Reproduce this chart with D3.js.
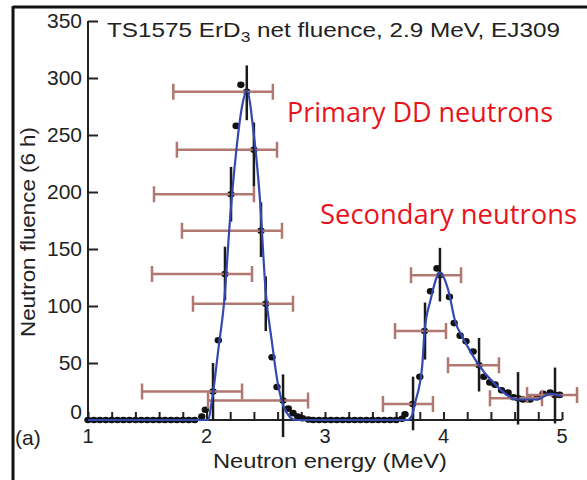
<!DOCTYPE html>
<html>
<head>
<meta charset="utf-8">
<script src="https://cdn.jsdelivr.net/npm/d3@7"></script>
<style>
  body { margin: 0; background: #fff; }
  svg text { font-family: "Liberation Sans", Arial, sans-serif; fill: #222; }
</style>
</head>
<body>
<div id="chart"></div>
<script>
// axis ticks
var energyTicks = [1, 2, 3, 4, 5];
var energyMinor = [1.2, 1.4, 1.6, 1.8, 2.2, 2.4, 2.6, 2.8, 3.2, 3.4, 3.6, 3.8, 4.2, 4.4, 4.6, 4.8];
var fluenceTicks = [0, 50, 100, 150, 200, 250, 300, 350];

// measured spectrum [energy MeV, fluence]
var measured = [
  [1.00,0],[1.05,0],[1.10,0],[1.15,0],[1.20,0],[1.25,0],[1.30,0],[1.35,0],[1.40,0],[1.45,0],
  [1.50,0],[1.55,0],[1.60,0],[1.65,0],[1.70,0],[1.75,0],[1.80,0],[1.85,0],[1.90,0],
  [1.96,3],[1.99,9],[2.055,25],[2.10,70],[2.156,128],[2.207,198],[2.25,258],[2.29,294],
  [2.34,288],[2.40,237],[2.46,166],[2.50,102],[2.553,55],[2.595,29],[2.646,17],[2.69,10],
  [2.73,6],[2.77,3],[2.81,1.5],[2.86,0.5],
  [2.90,0],[2.95,0],[3.00,0],[3.05,0],[3.10,0],[3.15,0],[3.20,0],[3.25,0],[3.30,0],[3.35,0],
  [3.40,0],[3.45,0],[3.50,0],[3.55,0],[3.60,0],
  [3.65,1],[3.675,5],[3.74,14],[3.80,38],[3.84,78],[3.89,113],[3.945,133],[3.97,127],
  [4.05,108],[4.09,85],[4.14,74],[4.19,69],[4.25,60],[4.30,48],[4.34,38],[4.39,33],
  [4.435,31],[4.49,26],[4.545,24],[4.59,20],[4.63,19],[4.67,18],[4.73,18],[4.79,20],
  [4.84,23],[4.90,24],[4.94,22],[4.98,22]
];

// fitted response (blue line)
var fit = [
  [1.00,0],[2.01,0],[2.05,20],[2.10,62],[2.15,105],[2.20,178],[2.25,235],[2.30,275],
  [2.34,289],[2.40,250],[2.45,195],[2.50,112],[2.55,70],[2.60,33],[2.65,12],[2.70,3],[2.75,0],
  [3.70,0],[3.73,3],[3.76,15],[3.82,47],[3.84,78],[3.89,105],[3.97,129],[4.04,114],
  [4.10,86],[4.165,72],[4.30,48],[4.42,33],[4.63,18],[4.79,18],[4.90,23],[5.00,21]
];

// error bars [energy, fluence, eLow, eHigh, fLow, fHigh]
var errorBars = [
  [2.34,288,1.72,2.56,263,311],
  [2.40,237,1.75,2.595,205,261],
  [2.207,198,1.557,2.40,174,222],
  [2.46,166,1.793,2.637,143,191],
  [2.156,128,1.54,2.384,105,152],
  [2.50,102,1.886,2.73,78,126],
  [2.055,25,1.456,2.30,0,50],
  [2.646,17,2.013,2.857,-15,40],
  [3.743,14,3.489,3.911,-9,38],
  [3.844,78,3.591,4.021,53,103],
  [3.97,127,3.726,4.148,104,151],
  [4.30,48,4.038,4.468,25,72],
  [4.629,19,4.392,4.831,-4,42],
  [4.941,22,4.705,5.127,-3,46]
];

var W = 587, H = 480;
var margin = {top: 21, left: 88, right: 25, bottom: 60};
var width = W - margin.left - margin.right,
    height = H - margin.top - margin.bottom;

var svg = d3.select("#chart").append("svg")
  .attr("width", W).attr("height", H);

// frame of the original picture
svg.append("line").attr("x1", 13).attr("x2", W).attr("y1", 7).attr("y2", 7)
  .attr("stroke", "#111").attr("stroke-width", 3);
svg.append("line").attr("x1", 13).attr("x2", 13).attr("y1", 6).attr("y2", H)
  .attr("stroke", "#111").attr("stroke-width", 3);

var g = svg.append("g")
  .attr("transform", "translate(" + margin.left + "," + margin.top + ")");

var x = d3.scaleLinear().domain([1, 5]).range([0, width]);
var y = d3.scaleLinear().domain([0, 350]).range([height, 0]);

// y axis, ticks pointing inward
var yAxis = g.append("g")
  .call(d3.axisRight(y).tickValues(fluenceTicks).tickSize(10).tickFormat(""));
yAxis.selectAll("line, path").attr("stroke", "#222").attr("stroke-width", 2);
yAxis.select(".domain").attr("d", "M0," + y(0) + "V" + y(350));
g.selectAll(".ylab").data(fluenceTicks).enter().append("text")
  .attr("class", "ylab")
  .attr("x", -6)
  .attr("y", function(d) { return y(d) + (d === 0 ? -1 : 7); })
  .attr("text-anchor", "end")
  .style("font-size", "21px")
  .text(function(d) { return d; });

// x axis, ticks pointing inward
var xAxis = g.append("g").attr("transform", "translate(0," + height + ")")
  .call(d3.axisTop(x).tickValues(energyTicks.concat(energyMinor)).tickSize(8).tickFormat(""));
xAxis.selectAll("line, path").attr("stroke", "#222").attr("stroke-width", 2);
xAxis.select(".domain").attr("d", "M0,0H" + width);
g.selectAll(".xlab").data(energyTicks).enter().append("text")
  .attr("class", "xlab")
  .attr("x", function(d) { return x(d); })
  .attr("y", height + 23)
  .attr("text-anchor", "middle")
  .style("font-size", "20px")
  .text(function(d) { return d; });

// measured points
g.append("g").selectAll("ellipse").data(measured).enter().append("ellipse")
  .attr("cx", function(d) { return x(d[0]); })
  .attr("cy", function(d) { return y(d[1]); })
  .attr("rx", 3.7).attr("ry", 3.3)
  .attr("fill", "#111");

// horizontal error bars
var hbar = g.append("g").attr("stroke", "#b07870").attr("stroke-width", 2.5).attr("fill", "none");
hbar.selectAll("path").data(errorBars).enter().append("path")
  .attr("d", function(d) {
    var yy = y(d[1]), a = x(d[2]), b = x(d[3]);
    return "M" + a + "," + (yy - 8) + "V" + (yy + 8) +
           "M" + a + "," + yy + "H" + b +
           "M" + b + "," + (yy - 8) + "V" + (yy + 8);
  });

// vertical error bars
g.append("g").selectAll("line").data(errorBars).enter().append("line")
  .attr("x1", function(d) { return x(d[0]); })
  .attr("x2", function(d) { return x(d[0]); })
  .attr("y1", function(d) { return y(d[4]); })
  .attr("y2", function(d) { return y(d[5]); })
  .attr("stroke", "#1a1a1a").attr("stroke-width", 2.5);

// fit line
var line = d3.line()
  .x(function(d) { return x(d[0]); })
  .y(function(d) { return y(d[1]); })
  .curve(d3.curveMonotoneX);
g.append("path").datum(fit)
  .attr("d", line)
  .attr("fill", "none")
  .attr("stroke", "#3548b0")
  .attr("stroke-width", 2.2);

// titles
var title = svg.append("text")
  .attr("x", 107).attr("y", 37)
  .attr("textLength", 453).attr("lengthAdjust", "spacingAndGlyphs")
  .style("font-size", "21px");
title.append("tspan").text("TS1575 ErD");
title.append("tspan").attr("dy", 5).style("font-size", "15px").text("3");
title.append("tspan").attr("dy", -5).text(" net fluence, 2.9 MeV, EJ309");

svg.append("text")
  .attr("x", 330).attr("y", 468)
  .attr("text-anchor", "middle")
  .attr("textLength", 234).attr("lengthAdjust", "spacingAndGlyphs")
  .style("font-size", "20px")
  .text("Neutron energy (MeV)");

svg.append("text")
  .attr("transform", "translate(35,232) rotate(-90)")
  .attr("text-anchor", "middle")
  .attr("textLength", 210).attr("lengthAdjust", "spacingAndGlyphs")
  .style("font-size", "21px")
  .text("Neutron fluence (6 h)");

svg.append("text")
  .attr("x", 15).attr("y", 445)
  .style("font-size", "21px")
  .text("(a)");

// annotations
svg.append("text")
  .attr("x", 287).attr("y", 122)
  .attr("textLength", 266).attr("lengthAdjust", "spacingAndGlyphs")
  .style("font-family", "'Open Sans', sans-serif")
  .style("font-size", "28px")
  .style("fill", "#e8141b")
  .text("Primary DD neutrons");

svg.append("text")
  .attr("x", 320).attr("y", 224)
  .attr("textLength", 257).attr("lengthAdjust", "spacingAndGlyphs")
  .style("font-family", "'Open Sans', sans-serif")
  .style("font-size", "28px")
  .style("fill", "#e8141b")
  .text("Secondary neutrons");
</script>
</body>
</html>
